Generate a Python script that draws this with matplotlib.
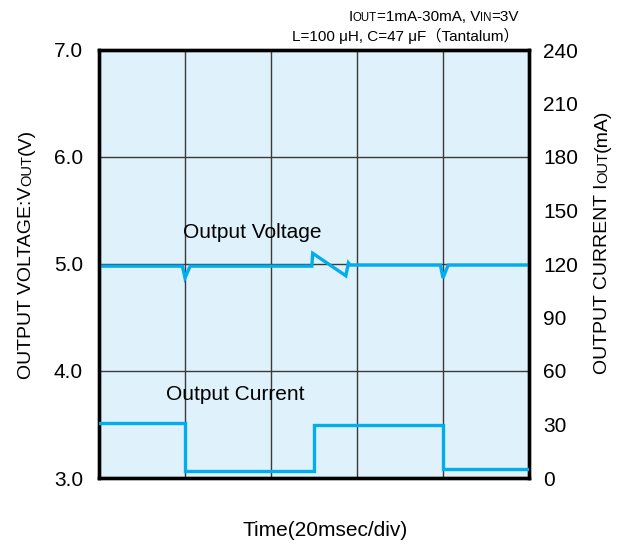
import matplotlib
matplotlib.use("Agg")
import matplotlib.pyplot as plt
from matplotlib.transforms import offset_copy

# Data
t_voltage = [0, 19.4, 20.0, 21.2, 49.5, 49.7, 57.4, 58.0, 58.4, 79.4, 80.0, 81.2, 100]
v_out = [4.98, 4.98, 4.87, 4.98, 4.98, 5.10, 4.89, 5.01, 4.99, 4.99, 4.87, 4.99, 4.99]
t_current = [0, 20, 20, 50, 50, 80, 80, 100]
i_out = [31, 31, 4, 4, 30, 30, 5, 5]
v_ticks = [3.0, 4.0, 5.0, 6.0, 7.0]
i_ticks = [0, 30, 60, 90, 120, 150, 180, 210, 240]
x_grid = [0, 20, 40, 60, 80, 100]

FONT = ["Liberation Sans", "Noto Sans CJK JP", "DejaVu Sans"]
plt.rcParams["font.family"] = FONT

blue = "#00aeef"
fig = plt.figure(figsize=(6.19, 5.48), dpi=100)
renderer = fig.canvas.get_renderer()
ax = fig.add_axes([99/619, 1-478/548, 430/619, 428/548])
ax.set_facecolor("#dff1fa")
ax.set_xlim(0, 100)
ax.set_ylim(3.0, 7.0)
ax.set_xticks(x_grid)
ax.set_xticklabels([])
ax.set_yticks(v_ticks)
ax.set_yticklabels([f"{v:.1f}" for v in v_ticks], fontsize=15)
ax.tick_params(axis="both", length=0)
ax.tick_params(axis="y", pad=11.5)
ax.grid(True, color="#3a3a3a", linewidth=1.0)
for s in ax.spines.values():
    s.set_linewidth(2.4)
    s.set_color("black")

ax.plot(t_voltage, v_out, color=blue, linewidth=2.4, solid_joinstyle="miter", zorder=3)

ax2 = ax.twinx()
ax2.set_ylim(0, 240)
ax2.set_yticks(i_ticks)
ax2.set_yticklabels([str(i) for i in i_ticks], fontsize=15)
ax2.tick_params(axis="y", length=0, pad=10)
for s in ax2.spines.values():
    s.set_linewidth(2.4)
ax2.plot(t_current, i_out, color=blue, linewidth=2.4, solid_joinstyle="miter", zorder=3)

ax.text(19.5, 5.29, "Output Voltage", fontsize=15, va="center", ha="left")
ax.text(15.5, 3.78, "Output Current", fontsize=15, va="center", ha="left")


def text_width(s, size):
    t = fig.text(0, 0, s, fontsize=size)
    w = t.get_window_extent(renderer=renderer).width
    t.remove()
    return w


def pieces_text(x_px, y_px, pieces, rotation=0, align="left"):
    """Draw text pieces of varying size sharing a baseline. x_px,y_px in figure pixels."""
    widths = [text_width(s, sz) for s, sz in pieces]
    total = sum(widths)
    if align == "center":
        start = -total / 2
    elif align == "right":
        start = -total
    else:
        start = 0
    pos = start
    for (s, sz), w in zip(pieces, widths):
        if rotation == 90:
            tr = offset_copy(fig.transFigure, fig=fig, x=0, y=pos * 72 / fig.dpi, units="points")
        else:
            tr = offset_copy(fig.transFigure, fig=fig, x=pos * 72 / fig.dpi, y=0, units="points")
        fig.text(x_px / 619, 1 - y_px / 548, s, fontsize=sz, rotation=rotation,
                 rotation_mode="anchor", ha="left", va="baseline", transform=tr)
        pos += w


big = 14
small = 10.5
pieces_text(31, 254, [("OUTPUT VOLTAGE:V", big), ("OUT", small), ("(V)", big)], rotation=90, align="center")
pieces_text(607, 242, [("OUTPUT CURRENT I", big), ("OUT", small), ("(mA)", big)], rotation=90, align="center")
fig.text(325/619, 1-530/548, "Time(20msec/div)", fontsize=15, ha="center", va="center")
pieces_text(519, 21, [("I", 11), ("OUT", 8.3), ("=1mA-30mA, V", 11), ("IN", 8.3), ("=3V", 11)], align="right")
fig.text(519/619, 1-36/548, "L=100 μH, C=47 μF（Tantalum）",
         fontsize=11, ha="right", va="center")

fig.savefig("out.png", dpi=100)
